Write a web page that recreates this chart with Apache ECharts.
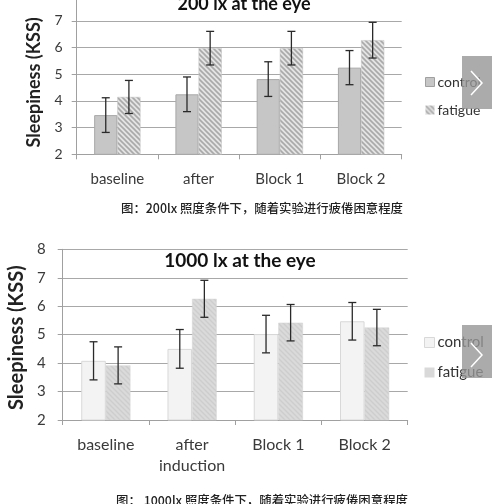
<!DOCTYPE html>
<html><head><meta charset="utf-8">
<script src="https://cdn.jsdelivr.net/npm/echarts@6/dist/echarts.min.js"></script>
<style>html,body{margin:0;padding:0;background:#fff}#c{width:500px;height:504px}</style>
</head><body><div id="c"></div>
<script>
// ---- data ----
var categoriesTop = ['baseline', 'after', 'Block 1', 'Block 2'];
var categoriesBottom = ['baseline', 'after\ninduction', 'Block 1', 'Block 2'];
var yTicks = [2, 3, 4, 5, 6, 7, 8];
var control200 = [3.47, 4.25, 4.82, 5.25];
var control200Err = [0.65, 0.65, 0.65, 0.64];
var fatigue200 = [4.15, 5.98, 5.98, 6.28];
var fatigue200Err = [0.62, 0.63, 0.63, 0.67];
var control1000 = [4.08, 4.50, 5.02, 5.47];
var control1000Err = [0.67, 0.68, 0.66, 0.66];
var fatigue1000 = [3.92, 6.26, 5.42, 5.25];
var fatigue1000Err = [0.65, 0.65, 0.64, 0.64];
var titleTop = '200 lx at the eye';
var titleBottom = '1000 lx at the eye';
var captionTop = '图：200lx 照度条件下，随着实验进行疲倦困意程度';
var captionBottom = '图： 1000lx 照度条件下，随着实验进行疲倦困意程度';
var seriesNames = ['control', 'fatigue'];

function hatch(bg, fg, size, lw) {
  var c = document.createElement('canvas');
  c.width = size; c.height = size;
  var g = c.getContext('2d');
  g.fillStyle = bg; g.fillRect(0, 0, size, size);
  g.strokeStyle = fg; g.lineWidth = lw;
  g.beginPath();
  g.moveTo(-1, -1); g.lineTo(size + 1, size + 1);
  g.moveTo(-1, size - 1); g.lineTo(1, size + 1);
  g.moveTo(size - 1, -1); g.lineTo(size + 1, 1);
  g.stroke();
  return { image: c, repeat: 'repeat' };
}
var patTop = hatch('#e4e4e4', '#a9a9a9', 5, 1.6);
var patBottom = hatch('#dadada', '#cdcdcd', 5, 1.4);

var GAP = 0.43;
function errSeries(gridIdx, vals, errs, side) {
  return {
    type: 'custom', xAxisIndex: gridIdx, yAxisIndex: gridIdx, z: 5, silent: true,
    data: vals.map(function (v, i) { return [i, v - errs[i], v + errs[i]]; }),
    renderItem: function (params, api) {
      var band = api.size([1, 0])[0];
      var bw = band * (1 - GAP) / 2;
      var off = side * bw / 2;
      var lo = api.coord([api.value(0), api.value(1)]);
      var hi = api.coord([api.value(0), api.value(2)]);
      var x = lo[0] + off, cap = 4;
      var st = { stroke: '#2a2a2a', lineWidth: 1.3 };
      return { type: 'group', children: [
        { type: 'line', shape: { x1: x, y1: lo[1], x2: x, y2: hi[1] }, style: st },
        { type: 'line', shape: { x1: x - cap, y1: lo[1], x2: x + cap, y2: lo[1] }, style: st },
        { type: 'line', shape: { x1: x - cap, y1: hi[1], x2: x + cap, y2: hi[1] }, style: st }
      ]};
    }
  };
}

var FONT = 'Lato, "Open Sans", sans-serif';
function xAx(gridIdx, cats, size, margin) {
  return {
    type: 'category', gridIndex: gridIdx, data: cats,
    axisLine: { lineStyle: { color: '#a0a0a0', width: 1 } },
    axisTick: { show: true, length: 5, lineStyle: { color: '#a0a0a0' } },
    axisLabel: { color: '#3a3a3a', fontSize: size, fontFamily: FONT, margin: margin, lineHeight: 21 }
  };
}
function yAx(gridIdx, size, gap, nameSize, margin, namePad) {
  return {
    type: 'value', gridIndex: gridIdx, min: 2, max: 8, interval: 1,
    name: 'Sleepiness (KSS)', nameLocation: 'middle', nameGap: gap, nameRotate: 90,
    nameTextStyle: { color: '#222', fontSize: nameSize, fontWeight: 'bold', fontFamily: FONT, padding: namePad },
    axisLine: { show: true, lineStyle: { color: '#a0a0a0' } },
    axisTick: { show: true, length: 5, lineStyle: { color: '#a0a0a0' } },
    axisLabel: { color: '#3a3a3a', fontSize: size, fontFamily: FONT, margin: margin,
      formatter: function (v) { return yTicks.indexOf(v) >= 0 ? String(v) : ''; } },
    splitLine: { lineStyle: { color: '#a8a8a8', width: 1 } }
  };
}

var chart = echarts.init(document.getElementById('c'));
chart.setOption({
  backgroundColor: '#fff',
  animation: false,
  grid: [
    { left: 76.7, width: 325, top: -5.7, height: 160, outerBoundsMode: 'none', containLabel: false },
    { left: 62.7, width: 345, top: 249.3, height: 170.7, outerBoundsMode: 'none', containLabel: false }
  ],
  xAxis: [xAx(0, categoriesTop, 15, 14), xAx(1, categoriesBottom, 16, 14)],
  yAxis: [yAx(0, 14, 31, 18, 14, [0, 16, 0, 0]), yAx(1, 15, 28, 20, 17, [0, 6, 0, 0])],
  legend: [
    { orient: 'vertical', left: 420, top: 70, itemWidth: 9, itemHeight: 9, itemGap: 14, icon: 'rect',
      textStyle: { color: '#333', fontSize: 14, fontFamily: FONT, padding: [0, 0, 0, -2] },
      data: [{ name: 'control', itemStyle: { color: '#c6c6c6', borderColor: '#a0a0a0', borderWidth: 1 } },
             { name: 'fatigue', itemStyle: { color: patTop, borderWidth: 0 } }] },
    { orient: 'vertical', left: 419, top: 330, itemWidth: 10, itemHeight: 10, itemGap: 15, icon: 'rect',
      textStyle: { color: '#333', fontSize: 15, fontFamily: FONT, padding: [0, 0, 0, -2] },
      data: [{ name: 'control', itemStyle: { color: '#f3f3f3', borderColor: '#d8d8d8', borderWidth: 1 } },
             { name: 'fatigue', itemStyle: { color: '#d9d9d9', borderWidth: 0 } }] }
  ],
  series: [
    { name: seriesNames[0], type: 'bar', xAxisIndex: 0, yAxisIndex: 0, data: control200,
      barGap: 0, barCategoryGap: GAP * 100 + '%',
      itemStyle: { color: '#c6c6c6', borderColor: '#a8a8a8', borderWidth: 1 } },
    { name: seriesNames[1], type: 'bar', xAxisIndex: 0, yAxisIndex: 0, data: fatigue200,
      barGap: 0, barCategoryGap: GAP * 100 + '%',
      itemStyle: { color: patTop, borderColor: '#c0c0c0', borderWidth: 0.5 } },
    { name: seriesNames[0], type: 'bar', xAxisIndex: 1, yAxisIndex: 1, data: control1000,
      barGap: 0, barCategoryGap: GAP * 100 + '%',
      itemStyle: { color: '#f3f3f3', borderColor: '#d8d8d8', borderWidth: 1 } },
    { name: seriesNames[1], type: 'bar', xAxisIndex: 1, yAxisIndex: 1, data: fatigue1000,
      barGap: 0, barCategoryGap: GAP * 100 + '%',
      itemStyle: { color: patBottom, borderColor: '#d4d4d4', borderWidth: 0.5 } },
    errSeries(0, control200, control200Err, -1),
    errSeries(0, fatigue200, fatigue200Err, 1),
    errSeries(1, control1000, control1000Err, -1),
    errSeries(1, fatigue1000, fatigue1000Err, 1)
  ],
  graphic: [
    { type: 'text', x: 244, y: 4, z: 10,
      style: { text: titleTop, fill: '#111', font: 'bold 18px ' + FONT, textAlign: 'center', textVerticalAlign: 'middle' } },
    { type: 'rect', x: 150, y: 250.5, z: 9, shape: { width: 190, height: 21 }, style: { fill: '#fff' } },
    { type: 'text', x: 240, y: 261, z: 10,
      style: { text: titleBottom, fill: '#111', font: 'bold 19px ' + FONT, textAlign: 'center', textVerticalAlign: 'middle' } },
    { type: 'text', x: 262, y: 208, z: 10,
      style: { text: captionTop, fill: '#222', font: '500 12.4px "Noto Sans CJK SC", sans-serif', textAlign: 'center', textVerticalAlign: 'middle' } },
    { type: 'text', x: 262, y: 500, z: 10,
      style: { text: captionBottom, fill: '#222', font: '500 12.4px "Noto Sans CJK SC", sans-serif', textAlign: 'center', textVerticalAlign: 'middle' } },
    { type: 'rect', x: 462, y: 56, z: 20, shape: { width: 30, height: 53 }, style: { fill: 'rgba(150,150,150,0.8)' } },
    { type: 'polyline', z: 21, shape: { points: [[471, 71], [482, 83], [471, 95]] }, style: { stroke: '#fff', lineWidth: 1.5, fill: null } },
    { type: 'rect', x: 462, y: 325, z: 20, shape: { width: 30, height: 53 }, style: { fill: 'rgba(150,150,150,0.8)' } },
    { type: 'polyline', z: 21, shape: { points: [[471, 343], [482, 355], [471, 367]] }, style: { stroke: '#fff', lineWidth: 1.5, fill: null } }
  ]
});
</script>
</body></html>
